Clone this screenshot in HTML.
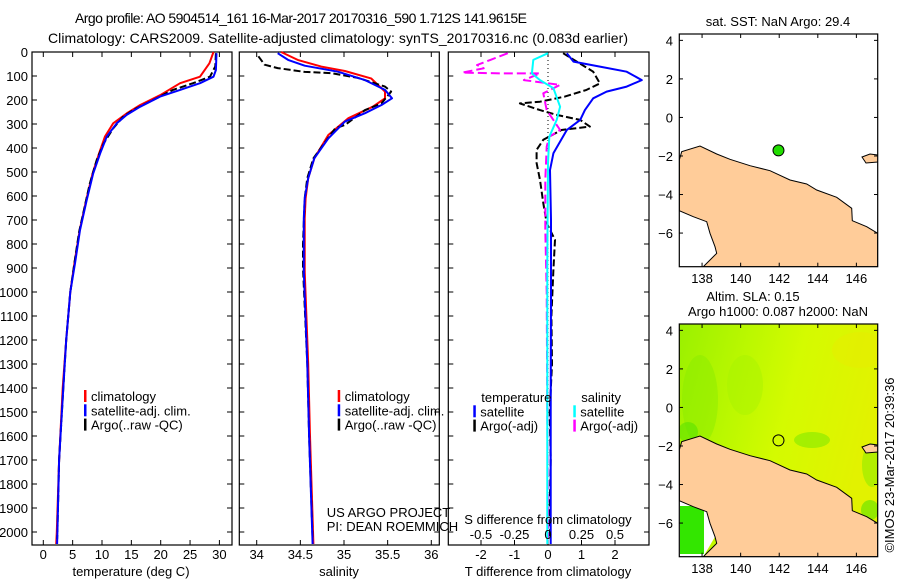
<!DOCTYPE html>
<html><head><meta charset="utf-8"><style>
body{margin:0;background:#fff;}
svg{display:block;font-family:"Liberation Sans",sans-serif;}
text{font-size:13px;fill:#000;}
</style></head><body>
<svg id="fig" width="900" height="580" viewBox="0 0 900 580" xmlns="http://www.w3.org/2000/svg">
<defs>
<linearGradient id="slaGrad" x1="0" y1="0" x2="1" y2="0.3">
<stop offset="0" stop-color="#9af000"/><stop offset="0.35" stop-color="#bcf800"/><stop offset="0.6" stop-color="#d4fb00"/><stop offset="1" stop-color="#e2f200"/>
</linearGradient>
<clipPath id="clipMap1"><rect x="679.3" y="34" width="198.4" height="232.7"/></clipPath>
<clipPath id="clipMap2"><rect x="679.3" y="324" width="198.4" height="232.7"/></clipPath>
</defs>
<text x="75" y="23" textLength="452" style="font-size:14px">Argo profile: AO 5904514_161 16-Mar-2017 20170316_590 1.712S 141.9615E</text>
<text x="48" y="43" textLength="580" style="font-size:14px">Climatology: CARS2009. Satellite-adjusted climatology: synTS_20170316.nc (0.083d earlier)</text>
<g id="p1"></g>
<g id="p2"></g>
<g id="p3"></g>
<g id="m1"></g>
<g id="m2"></g>
<text transform="translate(894,465) rotate(-90)" text-anchor="middle">©IMOS 23-Mar-2017 20:39:36</text>
</svg>
<script>
// ---- data ----
const depthTicks=[0,100,200,300,400,500,600,700,800,900,1000,1100,1200,1300,1400,1500,1600,1700,1800,1900,2000];
const tempTicks=[0,5,10,15,20,25,30];
const salTicks=[34,34.5,35,35.5,36];
const tdiffTicks=[-2,-1,0,1,2];
const sdiffTicks=[-0.5,-0.25,0,0.25,0.5];
const latTicks=[4,2,0,-2,-4,-6];
const lonTicks=[138,140,142,144,146];

const tSatDepth=[5,75,103,130,158,186,228,262,297,353,422,506,617,742,881,1000,1200,1400,1700,2000,2050];
const tSatVal=[29.5,29.4,29.0,26.7,23.3,19.9,16.5,14.2,12.5,10.8,9.7,8.5,7.4,6.25,5.4,4.6,3.9,3.4,2.7,2.4,2.35];
const tClimDepth=[0,47,103,130,180,221,256,297,353,422,506,617,742,881,1000,1200,1400,1700,2000,2050];
const tClimVal=[29.0,28.3,26.7,23.3,19.9,16.5,14.2,11.9,10.5,9.5,8.4,7.3,6.2,5.3,4.6,3.9,3.3,2.7,2.3,2.2];
const tArgoDepth=[5,60,103,130,158,200,242,270,318,380,450,550,650,750,880,1000,1200,1400,1700,2000,2030];
const tArgoVal=[29.4,29.3,28.4,25.5,22.1,18.7,15.3,13.6,11.9,10.3,9.1,7.9,7.0,6.1,5.3,4.6,3.9,3.4,2.7,2.4,2.35];

const sSatDepth=[5,33,57,82,117,158,193,221,255,290,360,443,526,610,693,915,1300,1600,2050];
const sSatVal=[34.24,34.36,34.55,34.93,35.24,35.47,35.55,35.43,35.24,35.01,34.82,34.66,34.59,34.55,34.54,34.54,34.58,34.60,34.64];
const sClimDepth=[0,33,61,79,110,165,193,228,276,346,443,526,610,693,915,1300,1600,2050];
const sClimVal=[34.28,34.47,34.74,35.01,35.31,35.47,35.47,35.33,35.05,34.82,34.66,34.59,34.56,34.55,34.55,34.59,34.61,34.65];
const sArgoDepth=[18,53,67,83,88,108,144,165,214,242,304,318,388,443,526,610,800,900,1300,1600,2030];
const sArgoVal=[34.02,34.09,34.24,34.55,34.85,35.16,35.47,35.54,35.43,35.24,35.01,34.9,34.76,34.65,34.58,34.55,34.53,34.53,34.58,34.6,34.64];

const dTSatDepth=[5,40,61,82,117,144,165,193,242,283,325,422,492,700,1000,1500,2000,2050];
const dTSatVal=[0.56,0.76,1.55,2.35,2.8,2.35,1.75,1.35,1.1,0.96,0.56,0.16,0.06,0.09,0.09,0.08,0.08,0.08];
const dTArgoDepth=[5,82,131,158,186,207,214,242,262,283,311,325,366,408,463,533,630,713,783,908,1100,1300,1500,1700,1900,2030];
const dTArgoVal=[0.45,1.35,1.55,1.15,0.5,-0.24,-0.84,-0.24,0.26,0.96,1.25,0.4,-0.14,-0.34,-0.34,-0.24,-0.14,-0.04,0.21,0.16,0.1,0.12,0.05,0.08,0.05,0.06];
const dSSatDepth=[5,33,89,117,151,228,283,353,464,880,1500,2050];
const dSSatVal=[0.0,-0.11,-0.12,-0.06,0.04,0.09,0.065,0.01,0.0,-0.005,-0.005,-0.005];
const dSArgoDepth=[5,33,54,68,86,89,89,117,137,172,242,325,353,394,533,742,1000,1500,2030];
const dSArgoVal=[-0.3,-0.43,-0.53,-0.48,-0.64,-0.33,-0.06,-0.18,0.09,-0.035,-0.01,0.09,0.01,-0.01,-0.02,-0.02,-0.01,-0.005,0.0];

const argoLon=141.9615, argoLat=-1.712;

// ---- helpers ----
const NS='http://www.w3.org/2000/svg';
function mk(tag,parent,attrs){const e=document.createElementNS(NS,tag);for(const k in attrs)e.setAttribute(k,attrs[k]);parent.appendChild(e);return e;}
const Y0=52,YK=0.24,PB=545;
const yD=d=>Y0+d*YK;
function panelBox(g,x0,x1){
  const r=mk('rect',g,{x:x0,y:Y0,width:x1-x0,height:PB-Y0,fill:'none',stroke:'#000','stroke-width':1.2});
  
  
}
function ticksX(g,vals,fx,labelY,fmt){
  vals.forEach(v=>{
    const x=fx(v);
    const t=mk('line',g,{x1:x,x2:x,y1:Y0,y2:Y0+5,stroke:'#000'});
    
    
    const tb=mk('line',g,{x1:x,x2:x,y1:PB,y2:PB-5,stroke:'#000'});
    
    
    if(labelY){const l=mk('text',g,{x:x,y:labelY,'text-anchor':'middle'});l.textContent=fmt?fmt(v):v;
      
      }
  });
}
function ticksY(g,x0,x1,labels){
  depthTicks.forEach(d=>{
    const y=yD(d);
    const a=mk('line',g,{x1:x0,x2:x0+5,y1:y,y2:y,stroke:'#000'});
    
    
    const b=mk('line',g,{x1:x1,x2:x1-5,y1:y,y2:y,stroke:'#000'});
    
    
    if(labels){const l=mk('text',g,{x:x0-4,y:y+5,'text-anchor':'end'});l.textContent=d;
      
      }
  });
}
function line(g,ds,vs,fx,color,name,dash,w){
  const p=ds.map((d,i)=>(i?'L':'M')+fx(vs[i]).toFixed(1)+','+yD(d).toFixed(1)).join('');
  const e=mk('path',g,{d:p,fill:'none',stroke:color,'stroke-width':w||2,'stroke-linejoin':'round'});
  if(dash)e.setAttribute('stroke-dasharray',dash);
  
  
}
function legend(g,x,y,items){
  items.forEach((it,i)=>{
    const yy=y+i*14.3;
    if(it.c){const b=mk('rect',g,{x:x,y:yy-11,width:2.5,height:12,fill:it.c});
      
      }
    const t=mk('text',g,{x:x+(it.c?7:8),y:yy});t.textContent=it.t;
    
    
  });
}
function txt(g,x,y,s,name,anchor){const t=mk('text',g,{x:x,y:y});if(anchor)t.setAttribute('text-anchor',anchor);t.textContent=s;
  
  }

// ---- panel 1 temperature ----
const p1=document.getElementById('p1');
const fT=v=>43.3+v*5.87;
panelBox(p1,32,232);ticksY(p1,32,232,true);ticksX(p1,tempTicks,fT,559);
line(p1,tClimDepth,tClimVal,fT,'#ff0000','climatology-temp-line');
line(p1,tArgoDepth,tArgoVal,fT,'#000000','argo-temp-line','7,3');
line(p1,tSatDepth,tSatVal,fT,'#0000ff','satellite-temp-line');
legend(p1,84,401,[{c:'#ff0000',t:'climatology'},{c:'#0000ff',t:'satellite-adj. clim.'},{c:'#000',t:'Argo(..raw -QC)'}]);
txt(p1,131,576,'temperature (deg C)','x-axis-title','middle');

// ---- panel 2 salinity ----
const p2=document.getElementById('p2');
const fS=v=>256.7+(v-34)*87.3;
panelBox(p2,239.3,439.3);ticksY(p2,239.3,439.3,false);ticksX(p2,salTicks,fS,559);
line(p2,sClimDepth,sClimVal,fS,'#ff0000','climatology-salinity-line');
line(p2,sArgoDepth,sArgoVal,fS,'#000000','argo-salinity-line','7,3');
line(p2,sSatDepth,sSatVal,fS,'#0000ff','satellite-salinity-line');
legend(p2,337.7,401,[{c:'#ff0000',t:'climatology'},{c:'#0000ff',t:'satellite-adj. clim.'},{c:'#000',t:'Argo(..raw -QC)'}]);
txt(p2,326.7,517,'US ARGO PROJECT','credit-project');
txt(p2,326.7,531,'PI: DEAN ROEMMICH','credit-pi');
txt(p2,339,576,'salinity','x-axis-title','middle');

// ---- panel 3 differences ----
const p3=document.getElementById('p3');
const fDT=v=>548+v*33.5, fDS=v=>548+v*134;
panelBox(p3,448.3,649);ticksY(p3,448.3,649,false);ticksX(p3,tdiffTicks,fDT,559);
const z=mk('line',p3,{x1:548,x2:548,y1:Y0,y2:PB,stroke:'#000','stroke-dasharray':'1,3'});


line(p3,dTArgoDepth,dTArgoVal,fDT,'#000000','argo-temp-diff-line','7,3');
line(p3,dSArgoDepth,dSArgoVal,fDS,'#ff00ff','argo-salinity-diff-line','9,4');
line(p3,dTSatDepth,dTSatVal,fDT,'#0000ff','satellite-temp-diff-line');
line(p3,dSSatDepth,dSSatVal,fDS,'#00ffff','satellite-salinity-diff-line');
legend(p3,473.3,402,[{t:'temperature'},{c:'#0000ff',t:'satellite'},{c:'#000',t:'Argo(-adj)'}]);
legend(p3,573.3,402,[{t:'salinity'},{c:'#00ffff',t:'satellite'},{c:'#ff00ff',t:'Argo(-adj)'}]);
txt(p3,548,524,'S difference from climatology','s-axis-title','middle');
sdiffTicks.forEach(v=>txt(p3,fDS(v),539,String(v),'s-tick-label','middle'));
txt(p3,548,576,'T difference from climatology','x-axis-title','middle');

// ---- maps ----
const lonX=l=>679.3+(l-136.82)*19.29;
const latY=(l,off)=>34+off+(4.33-l)*19.27;
const landPts=[[679.3,160],[681.7,151.7],[700,146],[716.7,154],[730,159.3],[750,165.7],[770,170.7],[790,180],[806.7,184],[816.7,190],[836.7,197.3],[851.7,208.3],[852.3,220.7],[866.7,226.7],[877.7,233.3],[877.7,266.7],[703.3,266.7],[716.7,253.3],[715,246.7],[710,233.3],[706.7,221.7],[693.3,216.7],[679.3,210.7]];
function drawMap(g,off,isSla,clip){
  const inner=mk('g',g,{'clip-path':'url(#'+clip+')'});
  if(isSla){
    const bg=mk('rect',inner,{x:679.3,y:34+off,width:198.4,height:232.7,fill:'url(#slaGrad)'});
    
    
    [[700,110,18,45,'#88ec00'],[745,95,18,30,'#a6f200'],[688,142,10,10,'#44dd00'],[812,150,18,8,'#66e400'],[872,175,10,22,'#77e800'],[870,220,9,10,'#33dd00'],[860,60,28,18,'#e8ea00']].forEach(c=>{
      const e=mk('ellipse',inner,{cx:c[0],cy:c[1]+off,rx:c[2],ry:c[3],fill:c[4],opacity:0.45});
      
      
    });
    const s=mk('polygon',inner,{points:'679.3,210.7 693.3,216.7 706.7,221.7 710,233.3 715,246.7 703.3,266.7 679.3,266.7'.split(' ').map(p=>{const a=p.split(',');return a[0]+','+(+a[1]+off);}).join(' '),fill:'#fff'});
    
    
    const gr=mk('rect',inner,{x:680,y:216+off,width:24,height:48,fill:'#33e600'});
    
    
  }
  const land=mk('polygon',inner,{points:landPts.map(p=>p[0]+','+(p[1]+off)).join(' '),fill:'#ffcc99',stroke:'#000','stroke-width':1});
  
  
  const isl=mk('polygon',inner,{points:[[862,157],[870,154],[878,155],[878,162],[866,163]].map(p=>p[0]+','+(p[1]+off)).join(' '),fill:'#ffcc99',stroke:'#000'});
  
  
  const frame=mk('rect',g,{x:679.3,y:34+off,width:198.4,height:232.7,fill:'none',stroke:'#000','stroke-width':1.2});
  
  
  latTicks.forEach(l=>{const y=latY(l,off);
    const a=mk('line',g,{x1:679.3,x2:683,y1:y,y2:y,stroke:'#000'});
    
    
    const b=mk('line',g,{x1:877.7,x2:874,y1:y,y2:y,stroke:'#000'});
    
    
    const t=mk('text',g,{x:673,y:y+5,'text-anchor':'end'});t.textContent=l<0?'\u2212'+(-l):l;
    
    });
  lonTicks.forEach(l=>{const x=lonX(l);
    const a=mk('line',g,{x1:x,x2:x,y1:34+off,y2:38+off,stroke:'#000'});
    
    
    const b=mk('line',g,{x1:x,x2:x,y1:266.7+off,y2:262.7+off,stroke:'#000'});
    
    
    const t=mk('text',g,{x:x,y:283+off,'text-anchor':'middle'});t.textContent=l;
    
    });
  const c=mk('circle',g,{cx:lonX(argoLon),cy:latY(argoLat,off),r:5.5,fill:isSla?'none':'#22dd00',stroke:'#000'});
  
  
}
const m1=document.getElementById('m1'),m2=document.getElementById('m2');
drawMap(m1,0,false,'clipMap1');
drawMap(m2,290,true,'clipMap2');
txt(m1,778,26,'sat. SST: NaN Argo: 29.4','sst-map-title','middle');
txt(m2,753,301,'Altim. SLA: 0.15','sla-map-title','middle');
txt(m2,778,316,'Argo h1000: 0.087 h2000: NaN','sla-map-subtitle','middle');
</script>
</body></html>
